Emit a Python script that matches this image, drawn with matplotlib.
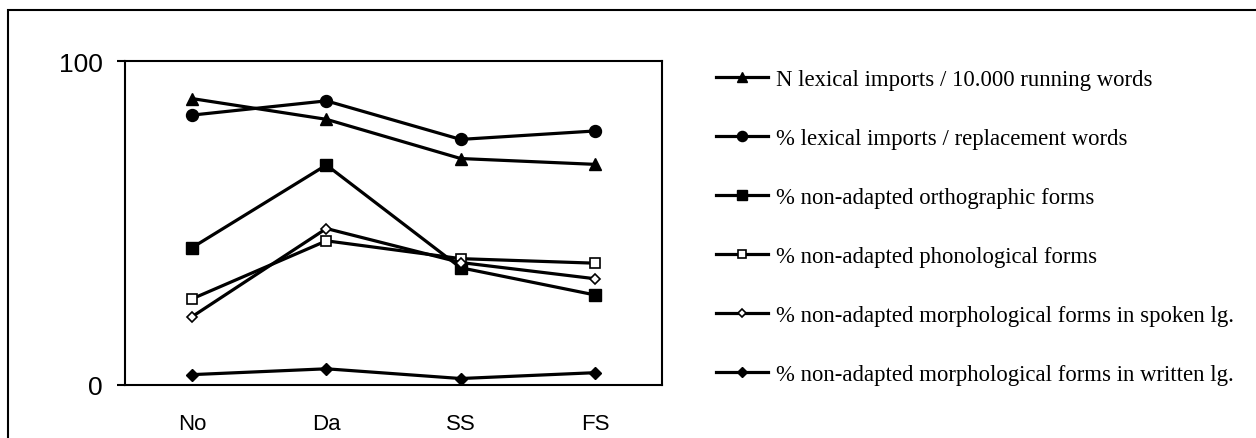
import matplotlib
matplotlib.use("Agg")
from matplotlib import pyplot as plt
from matplotlib.patches import Rectangle

# 各组数据
groups = ["No", "Da", "SS", "FS"]

n_imports = [88.4, 82.0, 69.9, 68.1]
pct_imports = [83.3, 87.7, 75.8, 78.4]
ortho = [42.4, 67.9, 36.2, 27.8]
phono = [26.6, 44.5, 39.0, 37.6]
morph_spoken = [21.1, 48.3, 37.8, 32.8]
morph_written = [3.2, 5.0, 2.0, 3.8]

labels = [
    "N lexical imports / 10.000 running words",
    "% lexical imports / replacement words",
    "% non-adapted orthographic forms",
    "% non-adapted phonological forms",
    "% non-adapted morphological forms in spoken lg.",
    "% non-adapted morphological forms in written lg.",
]

W, H = 1256, 439
fig = plt.figure(figsize=(W / 100, H / 100), dpi=100)

# 外框
fig.patches.append(Rectangle((8 / W, -0.1), 1.2, 1 - 11 / H + 0.1,
                             transform=fig.transFigure, fill=False,
                             edgecolor="black", linewidth=1.5))

ax = fig.add_axes([125 / W, (H - 386) / H, (662 - 125) / W, (386 - 62) / H])

x = range(len(groups))
lw = 2.3
series = [
    (n_imports, dict(marker="^", markersize=9, color="black", markerfacecolor="black")),
    (pct_imports, dict(marker="o", markersize=8.6, color="black", markerfacecolor="black")),
    (ortho, dict(marker="s", markersize=8.4, color="black", markerfacecolor="black")),
    (phono, dict(marker="s", markersize=7, color="black", markerfacecolor="white",
                 markeredgewidth=1.2)),
    (morph_spoken, dict(marker="D", markersize=5.3, color="black", markerfacecolor="white",
                        markeredgewidth=1.2)),
    (morph_written, dict(marker="D", markersize=6, color="black", markerfacecolor="black")),
]
for (vals, style), lab in zip(series, labels):
    ax.plot(x, vals, linewidth=lw, label=lab, clip_on=False, **style)

ax.set_xlim(-0.5, 3.5)
ax.set_ylim(0, 100)
ax.set_yticks([0, 100])
ax.set_xticks(list(x))
ax.set_xticklabels(groups)
for s in ax.spines.values():
    s.set_linewidth(1.5)
ax.tick_params(axis="y", length=6, width=1.5, pad=10, labelsize=19)
ax.tick_params(axis="x", length=0, pad=20, labelsize=16)
for t in ax.get_xticklabels() + ax.get_yticklabels():
    t.set_fontfamily("Liberation Sans")

leg = fig.legend(loc="upper left", bbox_to_anchor=(716 / W, 1 - 70 / H),
                 frameon=False, borderpad=0, borderaxespad=0,
                 handlelength=2.3, handletextpad=0.35, labelspacing=1.67,
                 prop={"family": "Liberation Serif", "size": 16.4})
for h in leg.get_lines():
    h.set_markersize(h.get_markersize() * 0.85)

plt.savefig("out.png", dpi=100)
